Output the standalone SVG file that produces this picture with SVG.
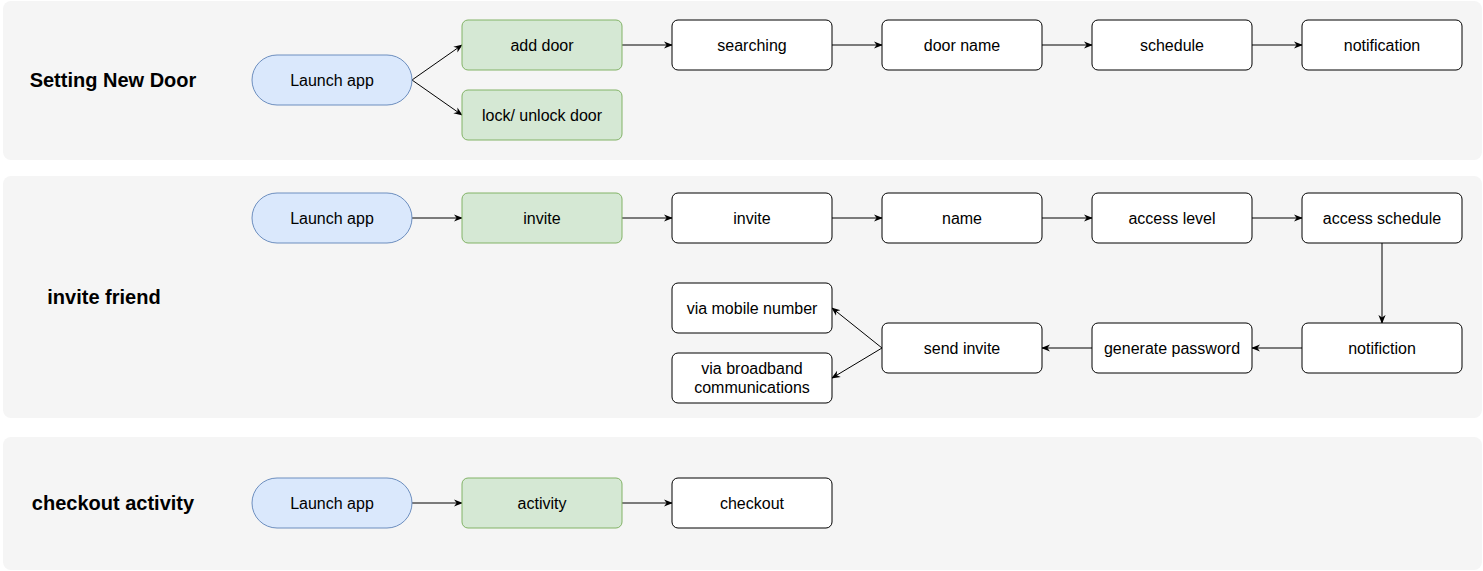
<svg xmlns="http://www.w3.org/2000/svg" width="1483" height="571" viewBox="0 0 1483 571">
<style>
.panel{fill:#f5f5f5;stroke:none}
.blue{fill:#dae8fc;stroke:#6c8ebf;stroke-width:1}
.green{fill:#d5e8d4;stroke:#82b366;stroke-width:1}
.white{fill:#ffffff;stroke:#000000;stroke-width:1}
text{font-family:"Liberation Sans",Arial,Helvetica,sans-serif;font-size:16px;fill:#000;text-anchor:middle;dominant-baseline:central}
.title{font-weight:bold;font-size:20px}
.edge{fill:none;stroke:#000;stroke-width:1}
</style>
<defs>
<marker id="arr" viewBox="0 0 10 10" refX="9" refY="5" markerWidth="9" markerHeight="9" markerUnits="userSpaceOnUse" orient="auto">
<path d="M0,1 L10,5 L0,9 L3,5 Z" fill="#000"/>
</marker>
</defs>
<g id="panels">
<rect class="panel" x="3" y="1" width="1479" height="159" rx="8"/>
<rect class="panel" x="3" y="176" width="1479" height="242" rx="8"/>
<rect class="panel" x="3" y="437" width="1479" height="133" rx="8"/>
</g>
<g id="titles">
<text class="title" x="113" y="80">Setting New Door</text>
<text class="title" x="104" y="297">invite friend</text>
<text class="title" x="113" y="503">checkout activity</text>
</g>
<g id="connectors">
<path class="edge" d="M412,80 L462,45" marker-end="url(#arr)"/>
<path class="edge" d="M412,80 L462,115" marker-end="url(#arr)"/>
<path class="edge" d="M622,45 L672,45" marker-end="url(#arr)"/>
<path class="edge" d="M832,45 L882,45" marker-end="url(#arr)"/>
<path class="edge" d="M1042,45 L1092,45" marker-end="url(#arr)"/>
<path class="edge" d="M1252,45 L1302,45" marker-end="url(#arr)"/>
<path class="edge" d="M412,218 L462,218" marker-end="url(#arr)"/>
<path class="edge" d="M622,218 L672,218" marker-end="url(#arr)"/>
<path class="edge" d="M832,218 L882,218" marker-end="url(#arr)"/>
<path class="edge" d="M1042,218 L1092,218" marker-end="url(#arr)"/>
<path class="edge" d="M1252,218 L1302,218" marker-end="url(#arr)"/>
<path class="edge" d="M1382,243 L1382,323" marker-end="url(#arr)"/>
<path class="edge" d="M1302,348 L1252,348" marker-end="url(#arr)"/>
<path class="edge" d="M1092,348 L1042,348" marker-end="url(#arr)"/>
<path class="edge" d="M882,348 L832,308" marker-end="url(#arr)"/>
<path class="edge" d="M882,348 L832,378" marker-end="url(#arr)"/>
<path class="edge" d="M412,503 L462,503" marker-end="url(#arr)"/>
<path class="edge" d="M622,503 L672,503" marker-end="url(#arr)"/>
</g>
<g id="n-launch1"><rect class="blue" x="252" y="55" width="160" height="50" rx="25"/><text x="332" y="80">Launch app</text></g>
<g id="n-adddoor"><rect class="green" x="462" y="20" width="160" height="50" rx="6"/><text x="542" y="45">add door</text></g>
<g id="n-lock"><rect class="green" x="462" y="90" width="160" height="50" rx="6"/><text x="542" y="115">lock/ unlock door</text></g>
<g id="n-searching"><rect class="white" x="672" y="20" width="160" height="50" rx="6"/><text x="752" y="45">searching</text></g>
<g id="n-doorname"><rect class="white" x="882" y="20" width="160" height="50" rx="6"/><text x="962" y="45">door name</text></g>
<g id="n-schedule"><rect class="white" x="1092" y="20" width="160" height="50" rx="6"/><text x="1172" y="45">schedule</text></g>
<g id="n-notification"><rect class="white" x="1302" y="20" width="160" height="50" rx="6"/><text x="1382" y="45">notification</text></g>
<g id="n-launch2"><rect class="blue" x="252" y="193" width="160" height="50" rx="25"/><text x="332" y="218">Launch app</text></g>
<g id="n-invite-g"><rect class="green" x="462" y="193" width="160" height="50" rx="6"/><text x="542" y="218">invite</text></g>
<g id="n-invite"><rect class="white" x="672" y="193" width="160" height="50" rx="6"/><text x="752" y="218">invite</text></g>
<g id="n-name"><rect class="white" x="882" y="193" width="160" height="50" rx="6"/><text x="962" y="218">name</text></g>
<g id="n-accesslevel"><rect class="white" x="1092" y="193" width="160" height="50" rx="6"/><text x="1172" y="218">access level</text></g>
<g id="n-accessschedule"><rect class="white" x="1302" y="193" width="160" height="50" rx="6"/><text x="1382" y="218">access schedule</text></g>
<g id="n-notifiction"><rect class="white" x="1302" y="323" width="160" height="50" rx="6"/><text x="1382" y="348">notifiction</text></g>
<g id="n-genpass"><rect class="white" x="1092" y="323" width="160" height="50" rx="6"/><text x="1172" y="348">generate password</text></g>
<g id="n-sendinvite"><rect class="white" x="882" y="323" width="160" height="50" rx="6"/><text x="962" y="348">send invite</text></g>
<g id="n-mobile"><rect class="white" x="672" y="283" width="160" height="50" rx="6"/><text x="752" y="308">via mobile number</text></g>
<g id="n-broadband"><rect class="white" x="672" y="353" width="160" height="50" rx="6"/><text x="752" y="368.5">via broadband</text><text x="752" y="387.5">communications</text></g>
<g id="n-launch3"><rect class="blue" x="252" y="478" width="160" height="50" rx="25"/><text x="332" y="503">Launch app</text></g>
<g id="n-activity"><rect class="green" x="462" y="478" width="160" height="50" rx="6"/><text x="542" y="503">activity</text></g>
<g id="n-checkout"><rect class="white" x="672" y="478" width="160" height="50" rx="6"/><text x="752" y="503">checkout</text></g>
</svg>
